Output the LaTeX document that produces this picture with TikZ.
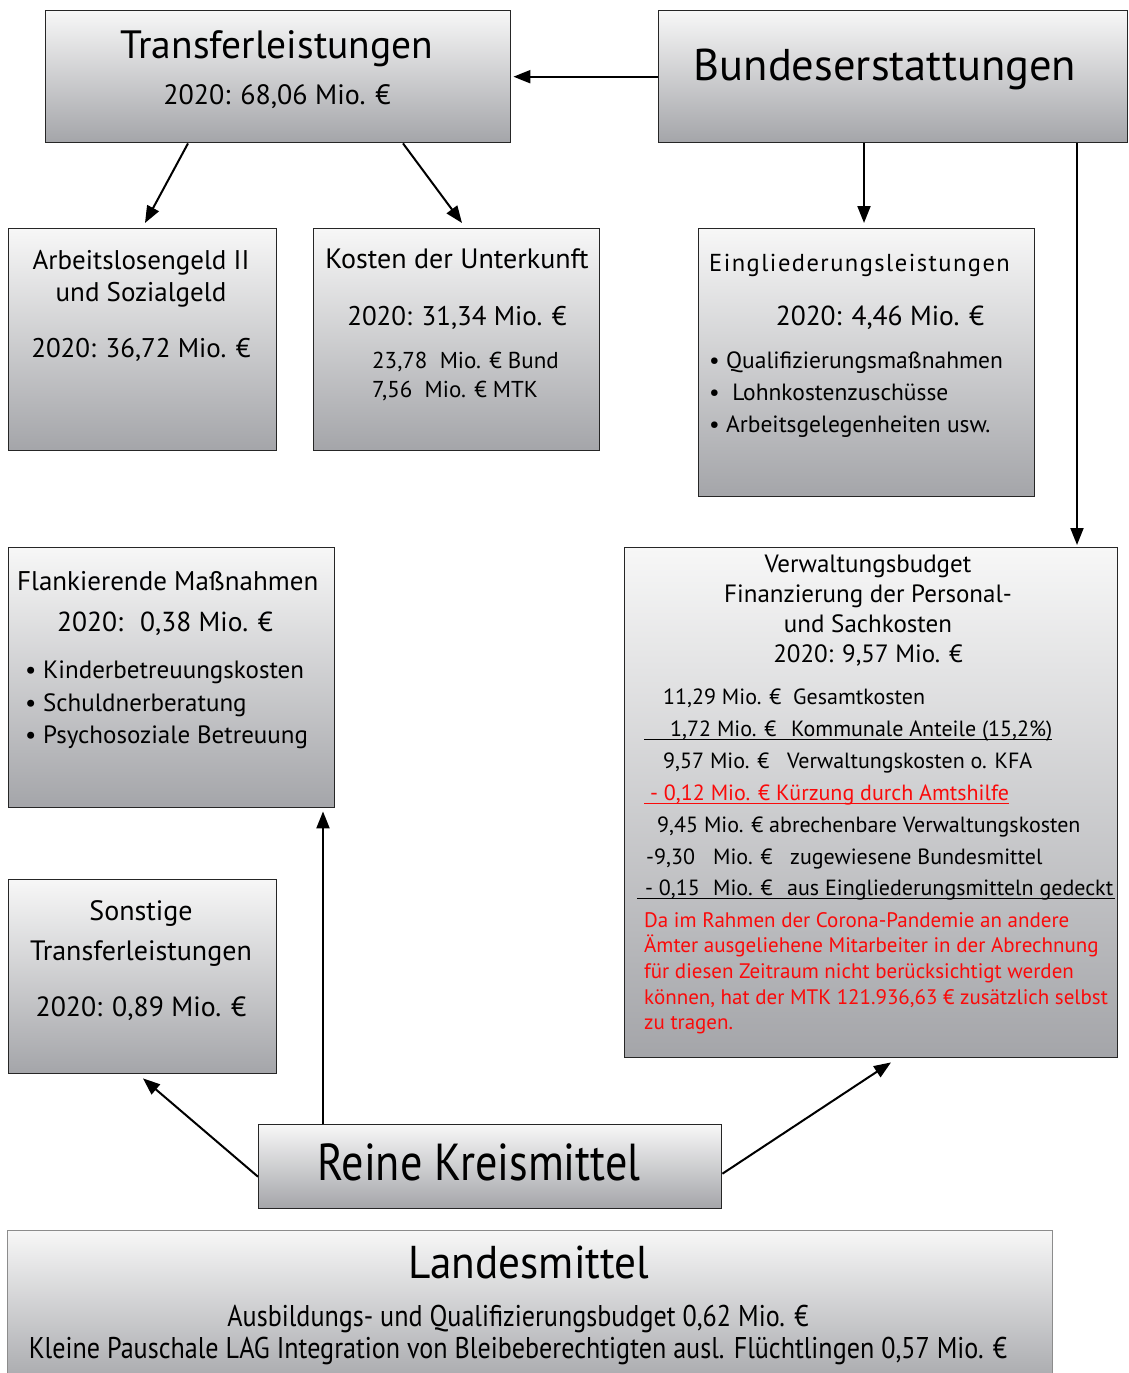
\documentclass[tikz,border=0pt]{standalone}
\usepackage{fontspec}
\setmainfont{PT Sans}
\usetikzlibrary{arrows.meta,positioning}

\definecolor{boxtop}{RGB}{247,247,247}
\definecolor{boxbot}{RGB}{164,165,169}
\definecolor{warnred}{RGB}{250,10,10}

\tikzset{
  gbox/.style={draw=black!85, line width=1.4pt, top color=boxtop, bottom color=boxbot,
    anchor=north west, inner sep=0pt},
  flow/.style={line width=2pt, -{Triangle[length=17pt,width=13pt]}},
  txt/.style={inner sep=0pt, anchor=base},
  ltxt/.style={inner sep=0pt, anchor=base west},
}

\begin{document}
\begin{tikzpicture}[x=1pt,y=-1pt]
\useasboundingbox (0,0) rectangle (1128,1373);

% boxes
\node[gbox, minimum width=465pt, minimum height=132pt] (transfer) at (45,10) {};
\node[gbox, minimum width=469pt, minimum height=132pt] (bund) at (658,10) {};
\node[gbox, minimum width=268pt, minimum height=222pt] (alg) at (8,228) {};
\node[gbox, minimum width=286pt, minimum height=222pt] (kdu) at (313,228) {};
\node[gbox, minimum width=336pt, minimum height=268pt] (eingl) at (698,228) {};
\node[gbox, minimum width=326pt, minimum height=260pt] (flank) at (8,547) {};
\node[gbox, minimum width=493pt, minimum height=510pt] (verw) at (624,547) {};
\node[gbox, minimum width=268pt, minimum height=194pt] (sonst) at (8,879) {};
\node[gbox, minimum width=463pt, minimum height=84pt] (kreis) at (258,1124) {};
\node[gbox, draw=black!45, line width=1pt, minimum width=1045pt, minimum height=160pt] (land) at (7,1230) {};

% Transferleistungen / Bundeserstattungen
\node[txt, font=\fontsize{39.5}{44}\selectfont] (transferT) at (277,58) {Transferleistungen};
\node[txt, font=\fontsize{28}{32}\selectfont] (transferV) at (277,104) {2020: 68,06 Mio. €};
\node[txt, font=\fontsize{44.5}{50}\selectfont] (bundT) at (885,80) {Bundeserstattungen};

% Arbeitslosengeld / KdU
\node[txt, font=\fontsize{27}{30}\selectfont] (algT1) at (141,269) {Arbeitslosengeld II};
\node[txt, font=\fontsize{27}{30}\selectfont] (algT2) at (141,301) {und Sozialgeld};
\node[txt, font=\fontsize{27}{30}\selectfont] (algV) at (141,357) {2020: 36,72 Mio. €};
\node[txt, font=\fontsize{28}{30}\selectfont] (kduT) at (457,268) {Kosten der Unterkunft};
\node[txt, font=\fontsize{27}{30}\selectfont] (kduV) at (457,325) {2020: 31,34 Mio. €};
\node[ltxt, font=\fontsize{23}{26}\selectfont] (kduB) at (372,368) {23,78 \ Mio. € Bund};
\node[ltxt, font=\fontsize{23}{26}\selectfont] (kduM) at (372,397) {7,56 \ Mio. € MTK};

% Eingliederungsleistungen
\node[ltxt, font=\fontsize{24.5}{28}\selectfont\addfontfeature{LetterSpace=6}] (einglT) at (709,271) {Eingliederungsleistungen};
\node[txt, font=\fontsize{27.5}{30}\selectfont] (einglV) at (880,325) {2020: 4,46 Mio. €};
\foreach \t [count=\i] in {Qualifizierungsmaßnahmen, \ Lohnkostenzuschüsse, Arbeitsgelegenheiten usw.}
  \node[ltxt, font=\fontsize{23.5}{26}\selectfont] (einglB\i) at (709,336+32*\i) {• \t};

% Flankierende Massnahmen
\node[ltxt, font=\fontsize{27}{30}\selectfont] (flankT) at (17,590) {Flankierende Maßnahmen};
\node[txt, font=\fontsize{27.5}{30}\selectfont] (flankV) at (165,631) {2020: \ 0,38 Mio. €};
\foreach \t [count=\i] in {Kinderbetreuungskosten, Schuldnerberatung, Psychosoziale Betreuung}
  \node[ltxt, font=\fontsize{25}{28}\selectfont] (flankB\i) at (25,646+32.5*\i) {• \t};

% Verwaltungsbudget
\foreach \t [count=\i] in {Verwaltungsbudget, Finanzierung der Personal-, und Sachkosten, {2020: 9,57 Mio. €}}
  \node[txt, font=\fontsize{25}{28}\selectfont] (verwT\i) at (868,542+30*\i) {\t};
\node[ltxt, font=\fontsize{22}{24}\selectfont] (row1) at (663,704) {\makebox[130pt][l]{11,29 Mio. €}Gesamtkosten};
\node[ltxt, font=\fontsize{22}{24}\selectfont] (row2) at (670,736) {\makebox[121pt][l]{1,72 Mio. €}Kommunale Anteile (15,2\%)};
\node[ltxt, font=\fontsize{22}{24}\selectfont] (row3) at (663,768) {\makebox[124pt][l]{9,57 Mio. €}Verwaltungskosten o. KFA};
\node[ltxt, font=\fontsize{22}{24}\selectfont, text=warnred] (row4) at (650,800) {- 0,12 Mio. € Kürzung durch Amtshilfe};
\node[ltxt, font=\fontsize{22}{24}\selectfont] (row5) at (657,832) {9,45 Mio. € abrechenbare Verwaltungskosten};
\node[ltxt, font=\fontsize{22}{24}\selectfont] (row6) at (646,864) {\makebox[67pt][l]{-9,30}\makebox[77pt][l]{Mio. €}zugewiesene Bundesmittel};
\node[ltxt, font=\fontsize{22}{24}\selectfont] (row7) at (645,895) {\makebox[68pt][l]{- 0,15}\makebox[74pt][l]{Mio. €}aus Eingliederungsmitteln gedeckt};
\draw[line width=1pt] (644,739) -- (row2.base east |- 0,739);
\draw[line width=1pt, warnred] (644,803) -- (row4.base east |- 0,803);
\draw[line width=1pt] (637,898) -- (1115,898);
\foreach \t [count=\i] in {Da im Rahmen der Corona-Pandemie an andere,
  Ämter ausgeliehene Mitarbeiter in der Abrechnung,
  für diesen Zeitraum nicht berücksichtigt werden,
  {können, hat der MTK 121.936,63 € zusätzlich selbst},
  zu tragen.}
  \node[ltxt, text=warnred, font=\fontsize{21}{25}\selectfont] (verwNote\i) at (644,901.3+25.7*\i) {\t};

% Sonstige Transferleistungen
\node[txt, font=\fontsize{28}{30}\selectfont] (sonstT1) at (141,920) {Sonstige};
\node[txt, font=\fontsize{28}{30}\selectfont] (sonstT2) at (141,960) {Transferleistungen};
\node[txt, font=\fontsize{27.8}{30}\selectfont] (sonstV) at (141,1016) {2020: 0,89 Mio. €};

% Kreismittel / Landesmittel
\node[txt, font=\fontsize{52}{56}\selectfont] (kreisT) at (479,1180) {\scalebox{0.85}[1]{Reine Kreismittel}};
\node[txt, font=\fontsize{46}{50}\selectfont] (landT) at (529,1278) {\scalebox{0.94}[1]{Landesmittel}};
\node[txt, font=\fontsize{30}{34}\selectfont] (landL1) at (518,1326) {\scalebox{0.87}[1]{Ausbildungs- und Qualifizierungsbudget 0,62 Mio. €}};
\node[txt, font=\fontsize{30}{34}\selectfont] (landL2) at (518,1358) {\scalebox{0.87}[1]{Kleine Pauschale LAG Integration von Bleibeberechtigten ausl. Flüchtlingen 0,57 Mio. €}};

% connectors
\draw[flow] (bund.west) -- ([xshift=2pt]transfer.east);
\draw[flow] ([xshift=143pt]transfer.south west) -- ([xshift=137pt,yshift=5pt]alg.north west);
\draw[flow] ([xshift=358pt]transfer.south west) -- ([xshift=149pt,yshift=5pt]kdu.north west);
\draw[flow] ([xshift=206pt]bund.south west) -- ([xshift=166pt,yshift=5pt]eingl.north west);
\draw[flow] ([xshift=419pt]bund.south west) -- ([xshift=453pt,yshift=2pt]verw.north west);
\draw[flow] ([yshift=-10pt]kreis.west) -- ([xshift=135pt,yshift=-4pt]sonst.south west);
\draw[flow] ([xshift=65pt]kreis.north west) -- ([xshift=315pt,yshift=-3pt]flank.south west);
\draw[flow] ([yshift=-7pt]kreis.east) -- ([xshift=267pt,yshift=-4pt]verw.south west);
\end{tikzpicture}
\end{document}
